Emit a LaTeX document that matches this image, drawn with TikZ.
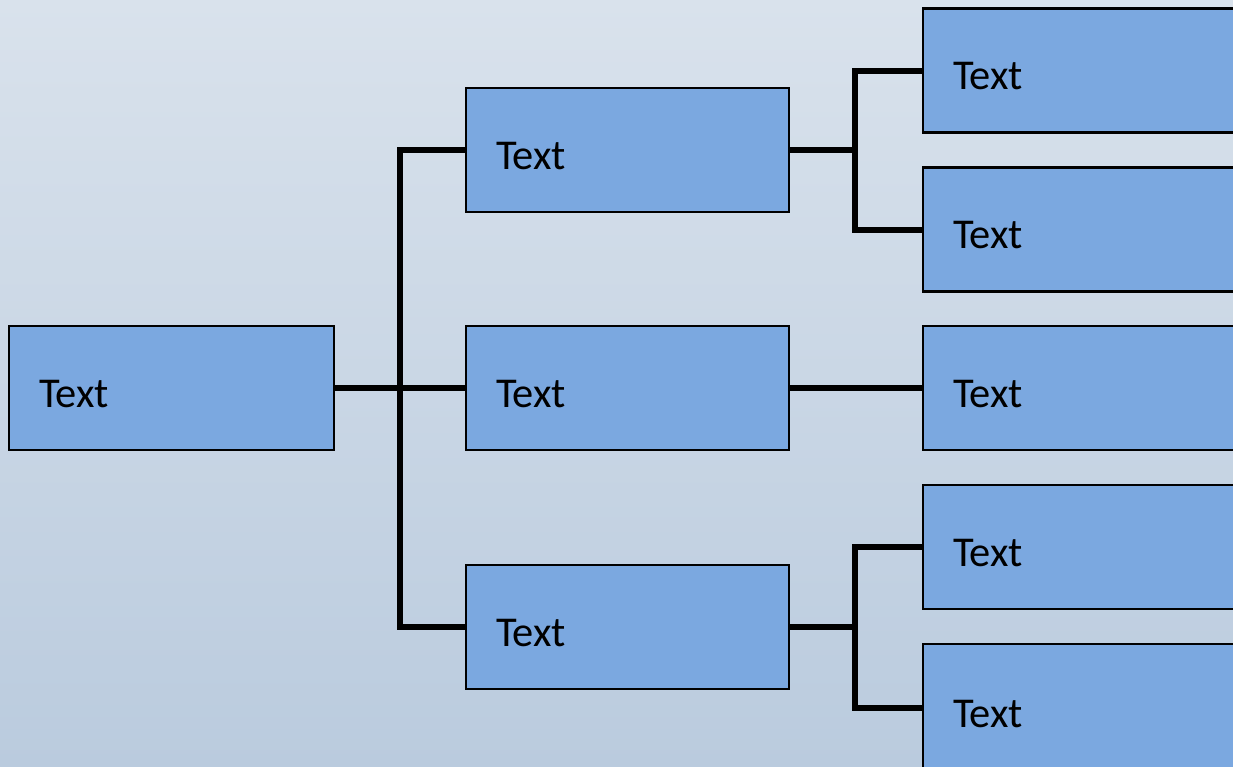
\documentclass[tikz,border=0pt]{standalone}
\usepackage{fontspec}
\setmainfont{Carlito}
\usetikzlibrary{calc}
\definecolor{boxfill}{HTML}{7BA8E0}
\definecolor{bgtop}{HTML}{D9E2EC}
\definecolor{bgbot}{HTML}{BACBDE}
\begin{document}
\begin{tikzpicture}[x=1pt,y=-1pt,
  box/.style={draw=black,line width=2.5pt,fill=boxfill,rectangle,
    minimum height=124pt,text width=#1,align=left,inner xsep=30pt,
    text height=42pt,text depth=4pt,font=\fontsize{42.5}{50}\selectfont},
  conn/.style={draw=black,line width=6pt}]
\useasboundingbox (0,0) rectangle (1233,766);
\clip (0,0) rectangle (1233,766);
\shade[top color=bgtop,bottom color=bgbot] (0,0) rectangle (1233,766);
% nodes
\node[box=265pt] (root) at (171.5,388) {Text};
\node[box=263pt] (m1) at (627.5,150) {Text};
\node[box=263pt] (m2) at (627.5,388) {Text};
\node[box=263pt] (m3) at (627.5,627) {Text};
\node[box=264pt] (r1) at (1085,70.5) {Text};
\node[box=264pt] (r2) at (1085,229.5) {Text};
\node[box=264pt] (r3) at (1085,388) {Text};
\node[box=264pt] (r4) at (1085,547) {Text};
\node[box=264pt,minimum height=128pt] (r5) at (1085,708) {Text};
% junctions
\coordinate (j1) at (400,388);
\coordinate (j2) at (855,150);
\coordinate (j3) at (855,627);
% connectors
\draw[conn] (m1.west) -| (j1) |- (m3.west);
\draw[conn] (root.east) -- (m2.west);
\draw[conn] (r1.west) -| (j2) |- (r2.west);
\draw[conn] (m1.east) -- (j2);
\draw[conn] (m2.east) -- (r3.west);
\draw[conn] (r4.west) -| (j3) |- (r5.west);
\draw[conn] (m3.east) -- (j3);
\end{tikzpicture}
\end{document}
